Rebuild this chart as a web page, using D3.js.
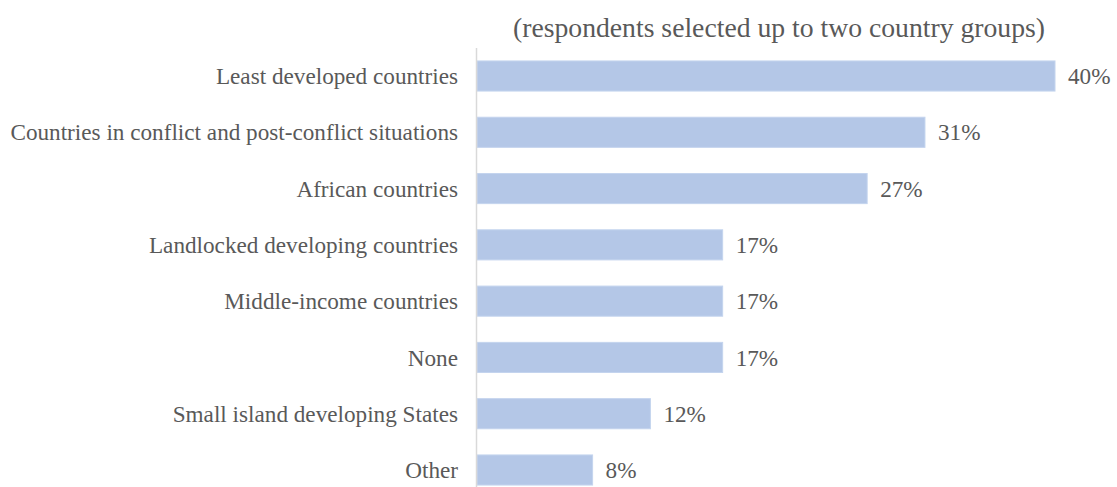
<!DOCTYPE html>
<html>
<head>
<meta charset="utf-8">
<script src="https://cdn.jsdelivr.net/npm/d3@7"></script>
<style>
  html, body { margin: 0; padding: 0; background: #fff; }
  svg { display: block; }
  text { font-family: "Liberation Serif", "Times New Roman", serif; fill: #595959; }
</style>
</head>
<body>
<svg id="chart" width="1117" height="487"></svg>
<script>
// Country groups and share of respondents (%)
const categories = [
  "Least developed countries",
  "Countries in conflict and post-conflict situations",
  "African countries",
  "Landlocked developing countries",
  "Middle-income countries",
  "None",
  "Small island developing States",
  "Other"
];
const values = [40, 31, 27, 17, 17, 17, 12, 8];
const subtitle = "(respondents selected up to two country groups)";

const svg = d3.select("#chart");
const plotLeft = 477, plotRight = 1055, plotTop = 48, plotBottom = 498;

const x = d3.scaleLinear().domain([0, 40]).range([plotLeft, plotRight]);
const y = d3.scaleBand().domain(categories).range([plotTop, plotBottom]).paddingInner(0.465).paddingOuter(0.23);

svg.append("text")
  .attr("x", 779).attr("y", 37)
  .attr("text-anchor", "middle")
  .style("font-size", "27.7px")
  .text(subtitle);

// bars
svg.selectAll("rect.bar").data(categories).join("rect")
  .attr("class", "bar")
  .attr("x", x(0))
  .attr("y", d => y(d))
  .attr("width", (d, i) => x(values[i]) - x(0))
  .attr("height", y.bandwidth())
  .attr("fill", "#b4c7e7")
  .attr("stroke", "#c4d4ee")
  .attr("stroke-width", 1);

// vertical axis line
svg.append("line")
  .attr("x1", plotLeft - 0.5).attr("x2", plotLeft - 0.5)
  .attr("y1", plotTop).attr("y2", 487)
  .attr("stroke", "#d9d9d9").attr("stroke-width", 1.5);

// category labels
svg.selectAll("text.cat").data(categories).join("text")
  .attr("class", "cat")
  .attr("x", 458)
  .attr("y", d => y(d) + y.bandwidth() / 2)
  .attr("dy", "0.35em")
  .attr("text-anchor", "end")
  .style("font-size", "23.2px")
  .text(d => d);

// value labels
svg.selectAll("text.val").data(categories).join("text")
  .attr("class", "val")
  .attr("x", (d, i) => x(values[i]) + 13)
  .attr("y", d => y(d) + y.bandwidth() / 2)
  .attr("dy", "0.35em")
  .style("font-size", "23.2px")
  .text((d, i) => values[i] + "%");
</script>
</body>
</html>
